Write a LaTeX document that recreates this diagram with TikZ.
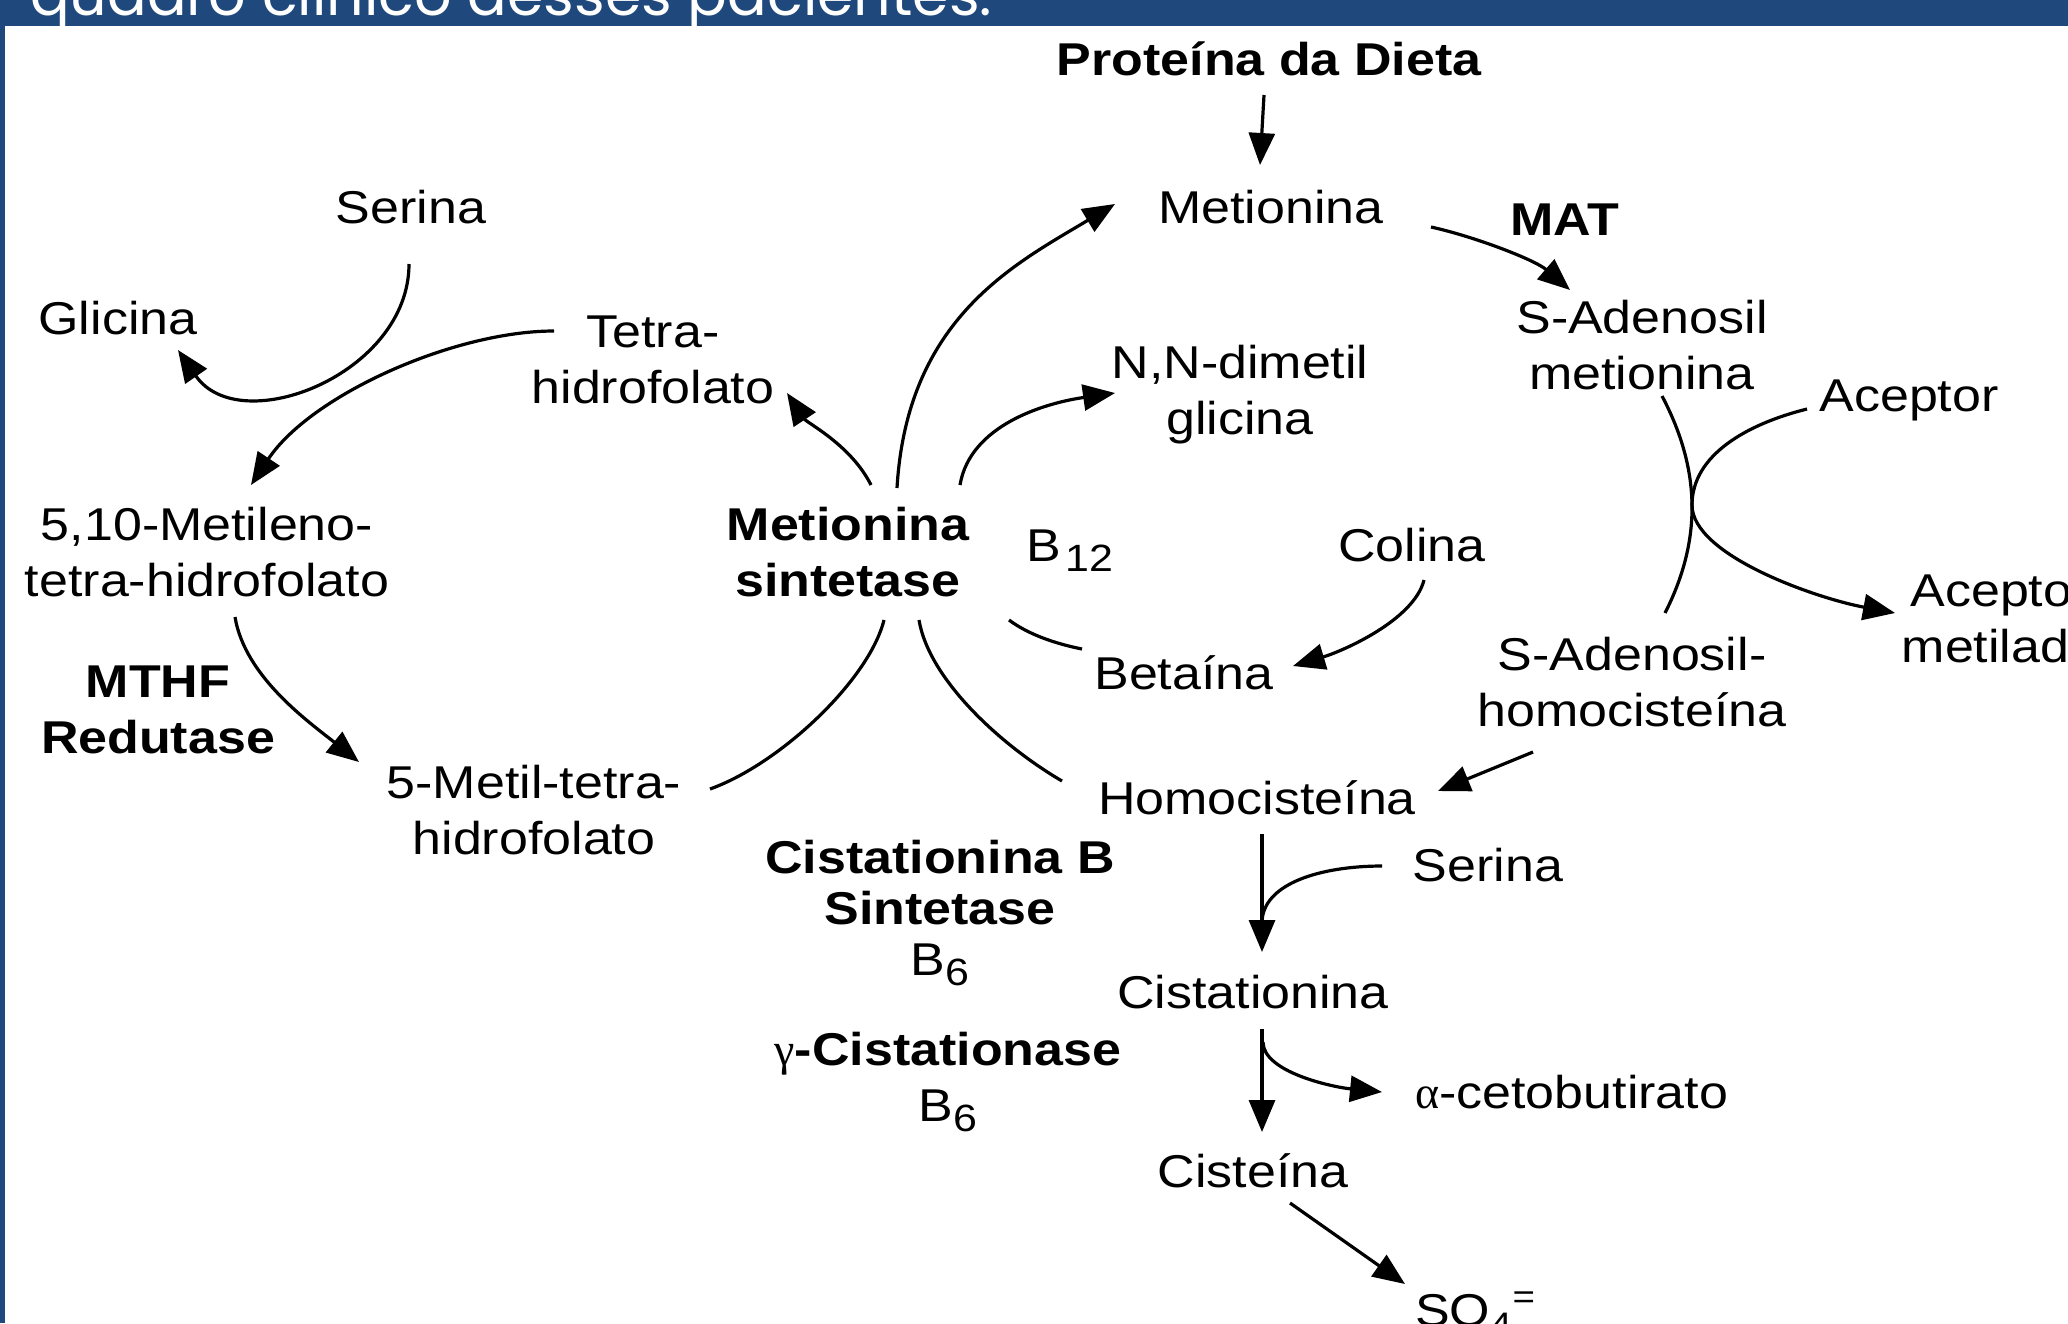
\documentclass[tikz,border=0pt]{standalone}
\usepackage{fontspec}
\setmainfont{Liberation Sans}[FakeStretch=1.13]
\newfontfamily\bandfont{Poppins}
\newfontfamily\grk{Liberation Serif}
\usetikzlibrary{arrows.meta}
\definecolor{band}{RGB}{31,73,124}
\tikzset{
  lbl/.style={inner sep=0pt, font=\fontsize{46}{56}\selectfont, align=center},
  blbl/.style={inner sep=0pt, font=\fontsize{46}{56}\selectfont\bfseries, align=center},
  conn/.style={line width=3.2pt},
  arr/.style={conn, -{Triangle[length=32pt,width=26pt]}},
}
\newcommand{\subn}[1]{\raisebox{-10pt}{\fontsize{38}{38}\selectfont #1}}
\begin{document}
\begin{tikzpicture}[x=1pt,y=-1pt]
\useasboundingbox (0,0) rectangle (2068,1323);
\clip (0,0) rectangle (2068,1323);
\fill[white] (0,0) rectangle (2068,1323);
% header band and left border
\fill[band] (0,0) rectangle (2068,26);
\fill[band] (0,0) rectangle (5,1323);
\node[anchor=base west, inner sep=0pt, text=white] (hdr) at (30,15) {\bandfont\resizebox{962pt}{!}{quadro clínico desses pacientes.}};

% nodes
\node[blbl] (prot) at (1269,59) {Proteína da Dieta};
\node[lbl] (met) at (1271,207) {Metionina};
\node[blbl] (mat) at (1565,220) {MAT};
\node[lbl] (sam) at (1642,345) {S-Adenosil\\metionina};
\node[lbl] (acc) at (1909,400) {Aceptor};
\node[lbl] (accm) at (2000,619) {Aceptor\\metilado};
\node[lbl] (sah) at (1632,682) {S-Adenosil-\\homocisteína};
\node[lbl] (hcy) at (1257,798) {Homocisteína};
\node[lbl] (ser2) at (1488,865) {Serina};
\node[lbl] (cth) at (1253,992) {Cistationina};
\node[lbl, anchor=west] (akb) at (1415,1092) {{\grk α}-cetobutirato};
\node[lbl] (cys) at (1253,1171) {Cisteína};
\node[lbl, anchor=base west] (so4) at (1415,1326) {SO\raisebox{-10pt}{\fontsize{34}{34}\selectfont 4}\kern1pt\raisebox{18pt}{\fontsize{34}{34}\selectfont =}};
\node[lbl] (ser1) at (411,207) {Serina};
\node[lbl] (gly) at (118,318) {Glicina};
\node[lbl] (thf) at (653,360) {Tetra-\\hidrofolato};
\node[lbl] (mthf) at (207,552) {5,10-Metileno-\\tetra-hidrofolato};
\node[blbl] (mthfr) at (158,710) {MTHF\\Redutase};
\node[lbl] (mtf) at (534,810) {5-Metil-tetra-\\hidrofolato};
\node[blbl] (ms) at (848,552) {Metionina\\sintetase};
\node[lbl] (dmg) at (1240,395) {N,N-dimetil\\glicina};
\node[lbl, anchor=base west] (b12) at (1026,561) {B\kern5pt\subn{12}};
\node[lbl] (col) at (1412,545) {Colina};
\node[lbl] (bet) at (1184,673) {Betaína};
\node[lbl, font=\fontsize{46}{51}\selectfont] (cbs) at (940,913) {\textbf{Cistationina B}\\\textbf{Sintetase}\\B\subn{6}};
\node[lbl] (cgl) at (948,1082) {{\grk γ}\textbf{-Cistationase}\\B\subn{6}};

% connectors
\draw[arr] ([shift={(-5,36)}]prot.center) -- ([shift={(-11,-42)}]met.center);
\draw[arr] ([shift={(160,20)}]met.center) .. controls +(45,10) and +(-35,-30) .. ([shift={(-72,-55)}]sam.center);
\draw[arr] ([shift={(49,-64)}]ms.center) .. controls +(10,-170) and +(-100,60) .. ([shift={(-156,-3)}]met.center);
\draw[arr] ([shift={(23,-67)}]ms.center) .. controls +(-20,-40) and +(20,30) .. ([shift={(134,33)}]thf.center);
\draw[arr] ([shift={(112,-67)}]ms.center) .. controls +(10,-60) and +(-70,10) .. ([shift={(-125,-2)}]dmg.center);
\draw[conn] ([shift={(176,-21)}]mtf.center) .. controls +(70,-25) and +(-15,60) .. ([shift={(36,68)}]ms.center);
\draw[conn] ([shift={(71,68)}]ms.center) .. controls +(10,60) and +(-60,-35) .. ([shift={(-195,-17)}]hcy.center);
\draw[conn] ([shift={(161,68)}]ms.center) .. controls +(20,15) and +(-25,-5) .. ([shift={(-102,-24)}]bet.center);
\draw[arr] ([shift={(12,35)}]col.center) .. controls +(-10,40) and +(50,-15) .. ([shift={(109,-7)}]bet.center);
\draw[arr] ([shift={(-99,70)}]sah.center) -- ([shift={(181,-7)}]hcy.center);
\draw[conn] ([shift={(20,51)}]sam.center) .. controls +(39,74) and +(37,-73) .. ([shift={(33,-69)}]sah.center);
\draw[arr] ([shift={(-102,9)}]acc.center) .. controls +(-60,15) and +(0,-50) .. ([shift={(-217,105)}]acc.center)
   .. controls +(0,50) and +(-80,-15) .. ([shift={(-105,-6)}]accm.center);
\draw[arr] ([shift={(5,36)}]hcy.center) -- ([shift={(9,-40)}]cth.center);
\draw[conn] ([shift={(-106,1)}]ser2.center) .. controls +(-60,0) and +(0,-40) .. ([shift={(9,-69)}]cth.center);
\draw[arr] ([shift={(9,37)}]cth.center) -- ([shift={(9,-39)}]cys.center);
\draw[arr] ([shift={(10,50)}]cth.center) .. controls +(0,30) and +(-50,-5) .. ([shift={(-33,0)}]akb.west);
\draw[arr] ([shift={(37,32)}]cys.center) -- ([shift={(-10,-42)}]so4.base west);
\draw[arr] ([shift={(-2,57)}]ser1.center) .. controls +(0,110) and +(62,90) .. ([shift={(60,32)}]gly.center);
\draw[arr] ([shift={(-99,-29)}]thf.center) .. controls +(-100,0) and +(60,-90) .. ([shift={(44,-67)}]mthf.center);
\draw[arr] ([shift={(28,65)}]mthf.center) .. controls +(10,60) and +(-50,-40) .. ([shift={(-175,-48)}]mtf.center);
\end{tikzpicture}
\end{document}
